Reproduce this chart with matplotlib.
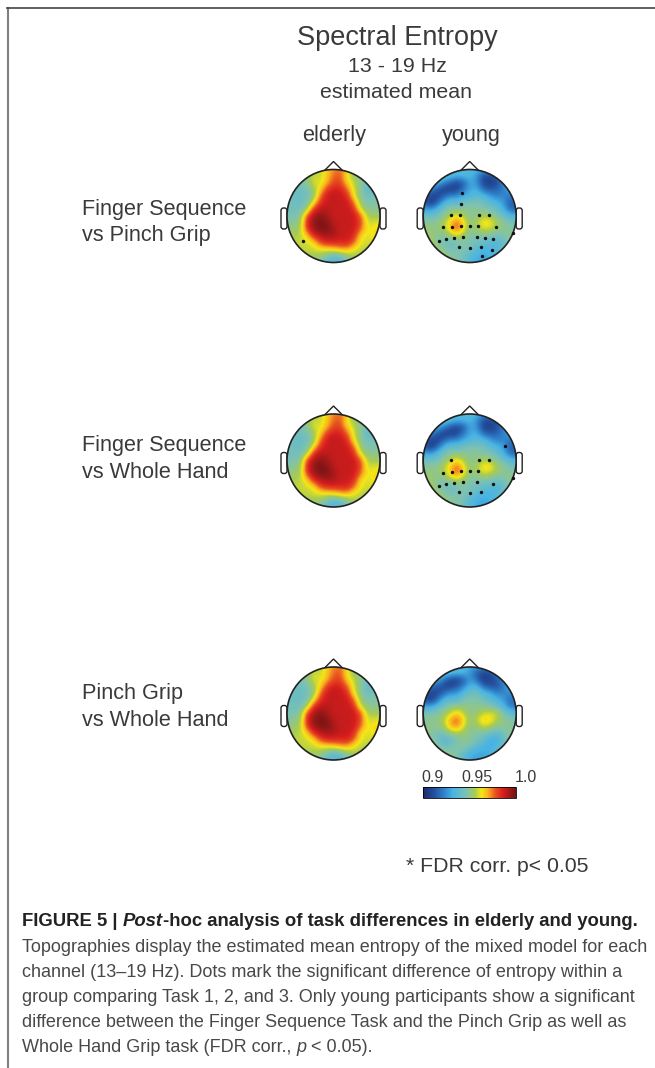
"""plot.py -- spectral entropy topographies, elderly vs young, three task contrasts."""
import numpy as np
import matplotlib
matplotlib.use("Agg")
import matplotlib.pyplot as plt
from matplotlib.cm import ScalarMappable
from matplotlib.colors import LinearSegmentedColormap, Normalize
from matplotlib.patches import Circle, FancyBboxPatch, Polygon

plt.rcParams["font.family"] = ["Liberation Sans", "DejaVu Sans"]

W, H = 655, 1068
RADIUS = 46.5
ELDERLY_X, YOUNG_X = 333.5, 469.7
ROW_Y = [216, 460.5, 713.5]

row_labels = [("Finger Sequence", "vs Pinch Grip"), ("Finger Sequence", "vs Whole Hand"),
              ("Pinch Grip", "vs Whole Hand")]

# estimated mean entropy, in 1/1000 above 0.9, top of head first
elderly_map = [
    [55, 55, 55, 55, 55, 58, 66, 74, 76, 66, 52, 48, 48, 48, 48],
    [52, 52, 50, 52, 60, 58, 68, 76, 78, 62, 54, 50, 48, 48, 48],
    [48, 48, 46, 50, 62, 60, 70, 80, 80, 66, 58, 50, 44, 42, 44],
    [46, 44, 42, 46, 54, 66, 82, 86, 86, 76, 60, 50, 38, 40, 44],
    [44, 42, 41, 44, 52, 76, 88, 90, 88, 84, 62, 50, 44, 46, 48],
    [44, 42, 42, 46, 64, 84, 88, 88, 88, 88, 76, 52, 46, 48, 48],
    [44, 44, 44, 56, 84, 90, 90, 88, 88, 88, 84, 60, 50, 50, 50],
    [46, 46, 50, 80, 93, 96, 92, 88, 88, 88, 88, 78, 56, 54, 54],
    [48, 50, 54, 86, 96, 99, 96, 90, 88, 88, 88, 80, 60, 60, 64],
    [52, 52, 56, 82, 94, 98, 98, 92, 88, 88, 88, 76, 62, 64, 66],
    [56, 56, 58, 66, 84, 90, 92, 92, 88, 88, 84, 64, 60, 64, 66],
    [58, 58, 58, 60, 64, 80, 84, 84, 84, 86, 76, 62, 60, 60, 62],
    [60, 60, 58, 58, 60, 62, 64, 66, 70, 70, 62, 58, 56, 58, 60],
    [60, 60, 58, 56, 54, 54, 46, 40, 44, 52, 56, 56, 56, 58, 60],
    [58, 58, 56, 54, 52, 46, 38, 34, 36, 44, 52, 56, 58, 60, 62],
]
young_map = [
    [42, 42, 42, 42, 40, 38, 36, 36, 34, 28, 26, 30, 36, 40, 42],
    [42, 42, 42, 40, 36, 32, 34, 34, 26, 12, 10, 14, 28, 36, 40],
    [38, 36, 34, 24, 16, 10, 14, 30, 26, 8, 6, 10, 22, 34, 38],
    [30, 26, 14, 8, 6, 8, 20, 30, 32, 18, 14, 16, 22, 30, 34],
    [18, 8, 8, 14, 24, 24, 30, 34, 38, 36, 28, 22, 24, 20, 24],
    [14, 6, 14, 32, 40, 38, 44, 46, 46, 44, 38, 34, 28, 14, 16],
    [30, 26, 34, 44, 50, 50, 50, 50, 50, 48, 46, 42, 32, 18, 16],
    [44, 42, 44, 50, 56, 64, 56, 48, 50, 56, 54, 48, 44, 36, 34],
    [50, 50, 50, 56, 66, 78, 66, 52, 56, 66, 66, 56, 50, 46, 44],
    [52, 52, 50, 54, 66, 78, 64, 50, 52, 60, 58, 52, 50, 50, 48],
    [54, 54, 50, 48, 52, 58, 52, 48, 48, 48, 46, 44, 46, 50, 52],
    [56, 54, 50, 44, 42, 44, 48, 46, 44, 40, 38, 34, 40, 48, 52],
    [58, 58, 54, 50, 44, 46, 48, 44, 38, 32, 34, 34, 42, 50, 52],
    [60, 60, 58, 54, 50, 48, 44, 36, 32, 30, 32, 36, 44, 50, 52],
    [62, 62, 60, 56, 52, 50, 44, 36, 30, 28, 30, 36, 44, 50, 52],
]
young_map_low = [
    [44, 44, 44, 44, 44, 42, 36, 30, 26, 24, 30, 36, 40, 42, 44],
    [42, 42, 42, 40, 36, 32, 34, 26, 16, 8, 10, 20, 30, 36, 40],
    [38, 36, 32, 20, 10, 8, 14, 28, 18, 6, 8, 14, 22, 32, 38],
    [30, 20, 14, 10, 8, 14, 22, 34, 34, 18, 12, 12, 22, 30, 34],
    [16, 8, 10, 16, 26, 26, 36, 42, 44, 36, 32, 22, 24, 24, 28],
    [12, 6, 16, 34, 38, 36, 46, 48, 48, 44, 38, 34, 28, 18, 20],
    [30, 28, 36, 44, 50, 52, 52, 50, 50, 50, 48, 42, 34, 20, 20],
    [46, 46, 48, 52, 58, 66, 58, 50, 52, 58, 60, 60, 48, 40, 36],
    [50, 50, 50, 56, 70, 78, 66, 52, 58, 68, 66, 56, 50, 48, 46],
    [50, 50, 50, 54, 68, 74, 62, 50, 52, 60, 56, 52, 50, 50, 48],
    [52, 50, 46, 46, 52, 56, 52, 50, 48, 46, 44, 38, 44, 50, 52],
    [54, 50, 44, 36, 38, 46, 50, 50, 46, 40, 32, 30, 40, 50, 52],
    [58, 56, 50, 42, 44, 48, 50, 46, 38, 34, 30, 34, 44, 52, 54],
    [60, 60, 56, 52, 50, 48, 42, 32, 30, 30, 32, 38, 46, 50, 54],
    [62, 62, 60, 56, 52, 46, 38, 30, 28, 28, 30, 36, 44, 50, 54],
]

# significant channels, head coordinates (x right, y down, rim at 1)
elderly_dots_1 = [(-0.65, 0.54)]
young_dots_1 = [(-0.16, -0.50), (-0.18, -0.26), (-0.41, -0.02), (-0.21, -0.02), (0.20, -0.02),
                (0.41, -0.02), (-0.58, 0.24), (-0.37, 0.23), (-0.18, 0.22), (0.0, 0.22),
                (0.18, 0.22), (0.57, 0.24), (-0.66, 0.54), (-0.50, 0.50), (-0.33, 0.47),
                (-0.15, 0.45), (0.15, 0.45), (0.33, 0.47), (0.50, 0.50), (-0.24, 0.66),
                (0.0, 0.68), (0.24, 0.66), (0.47, 0.74), (0.26, 0.87), (0.94, 0.36)]
young_dots_2 = [(0.76, -0.32), (-0.41, -0.01), (0.20, -0.01), (0.41, -0.01), (-0.58, 0.26),
                (-0.37, 0.25), (-0.18, 0.23), (0.0, 0.23), (0.18, 0.23), (0.94, 0.38),
                (-0.66, 0.55), (-0.50, 0.51), (-0.33, 0.48), (-0.15, 0.47), (0.15, 0.47),
                (0.50, 0.51), (-0.24, 0.68), (0.0, 0.70), (0.24, 0.68)]

caption = ["Topographies display the estimated mean entropy of the mixed model for each",
           "channel (13\u201319 Hz). Dots mark the significant difference of entropy within a",
           "group comparing Task 1, 2, and 3. Only young participants show a significant",
           "difference between the Finger Sequence Task and the Pinch Grip as well as"]

cmap = LinearSegmentedColormap.from_list("topo", [
    (0.0, "#1b2a6b"), (0.12, "#23509f"), (0.22, "#3080c8"), (0.32, "#48b4e4"), (0.47, "#7fc2b0"),
    (0.56, "#a8cc50"), (0.63, "#f5e616"), (0.70, "#f8b020"), (0.78, "#e8501f"), (0.86, "#d81e1e"),
    (1.0, "#701414")])
norm = Normalize(0.9, 1.0)


def draw_head(ax, cx, cy, values, dots=()):
    z = 0.9 + np.array(values) / 1000
    pad = RADIUS / 14 * 15
    im = ax.imshow(z, cmap=cmap, norm=norm, interpolation="bicubic", aspect="auto",
                   extent=(cx - pad, cx + pad, cy + pad, cy - pad), zorder=2)
    im.set_clip_path(Circle((cx, cy), RADIUS, transform=ax.transData))
    for side in (-1, 1):
        ex = cx + side * (RADIUS + 3)
        ax.add_patch(FancyBboxPatch((ex - 1.5, cy - 6.5), 3, 18, boxstyle="round,pad=1.5,rounding_size=2.5",
                                    fc="white", ec="#222222", lw=1.0, zorder=1))
    ax.add_patch(Polygon([(cx - 9, cy - RADIUS + 1), (cx, cy - RADIUS - 8), (cx + 9, cy - RADIUS + 1)],
                         closed=False, fc="white", ec="#222222", lw=1.0, zorder=1))
    ax.add_patch(Circle((cx, cy), RADIUS, fc="none", ec="#222222", lw=1.2, zorder=3))
    if dots:
        ax.scatter([cx + d[0] * RADIUS for d in dots], [cy + d[1] * RADIUS for d in dots],
                   s=6, c="#111111", linewidths=0, zorder=4)


fig = plt.figure(figsize=(W / 100, H / 100), dpi=100)
ax = fig.add_axes([0, 0, 1, 1])

draw_head(ax, ELDERLY_X, ROW_Y[0], elderly_map, elderly_dots_1)
draw_head(ax, YOUNG_X, ROW_Y[0], young_map, young_dots_1)
draw_head(ax, ELDERLY_X, ROW_Y[1], elderly_map)
draw_head(ax, YOUNG_X, ROW_Y[1], young_map, young_dots_2)
draw_head(ax, ELDERLY_X, ROW_Y[2], elderly_map)
draw_head(ax, YOUNG_X, ROW_Y[2], young_map_low)

ax.set_xlim(0, W)
ax.set_ylim(H, 0)
ax.axis("off")

GREY = "#3a3a3a"
ax.text(397, 38, "Spectral Entropy", ha="center", va="center", fontsize=19.5, color=GREY)
ax.text(397, 66, "13 - 19 Hz", ha="center", va="center", fontsize=15.4, color=GREY)
ax.text(396, 92, "estimated mean", ha="center", va="center", fontsize=15.4, color=GREY)
ax.text(334.6, 135, "elderly", ha="center", va="center", fontsize=15.7, color=GREY)
ax.text(471, 135, "young", ha="center", va="center", fontsize=15.6, color=GREY)

for (a, b), y1, y2 in zip(row_labels, [209, 446, 693], [235, 472, 720]):
    ax.text(81.5, y1, a, va="center", fontsize=15.6, color=GREY)
    ax.text(81.5, y2, b, va="center", fontsize=15.6, color=GREY)

# colour bar
cax = fig.add_axes([423 / W, 1 - 798 / H, 93 / W, 11.5 / H])
cb = fig.colorbar(ScalarMappable(norm=norm, cmap=cmap), cax=cax, orientation="horizontal")
cb.set_ticks([])
cb.outline.set_linewidth(0.6)
ax.text(432, 777, "0.9", ha="center", va="center", fontsize=11.5, color=GREY)
ax.text(477, 777, "0.95", ha="center", va="center", fontsize=11.5, color=GREY)
ax.text(526, 777, "1.0", ha="center", va="center", fontsize=11.5, color=GREY)

ax.text(588, 867, "* FDR corr. p< 0.05", ha="right", va="center", fontsize=15.3, color=GREY)

# frame of the figure panel
ax.plot([7.5, 7.5], [H, 8], color="#808080", lw=1.5, clip_on=False)
ax.plot([7, W], [8, 8], color="#444444", lw=1.2, clip_on=False)


def runs(x, y, parts, size, color):
    # write text pieces of mixed style one after the other
    r = fig.canvas.get_renderer()
    for s, weight, style in parts:
        t = ax.text(x, y, s, va="center", fontsize=size, fontweight=weight, fontstyle=style, color=color)
        x += t.get_window_extent(r).width


runs(22, 922, [("FIGURE 5 | ", "bold", "normal"), ("Post", "bold", "italic"),
               ("-hoc analysis of task differences in elderly and young.", "bold", "normal")], 13.3, "#222222")
for i, line in enumerate(caption):
    ax.text(22, 947 + i * 25.2, line, va="center", fontsize=12.95, color="#484848")
runs(22, 1048, [("Whole Hand Grip task (FDR corr., ", "normal", "normal"), ("p", "normal", "italic"),
                (" < 0.05).", "normal", "normal")], 12.95, "#484848")

fig.savefig("out.png", dpi=100)
